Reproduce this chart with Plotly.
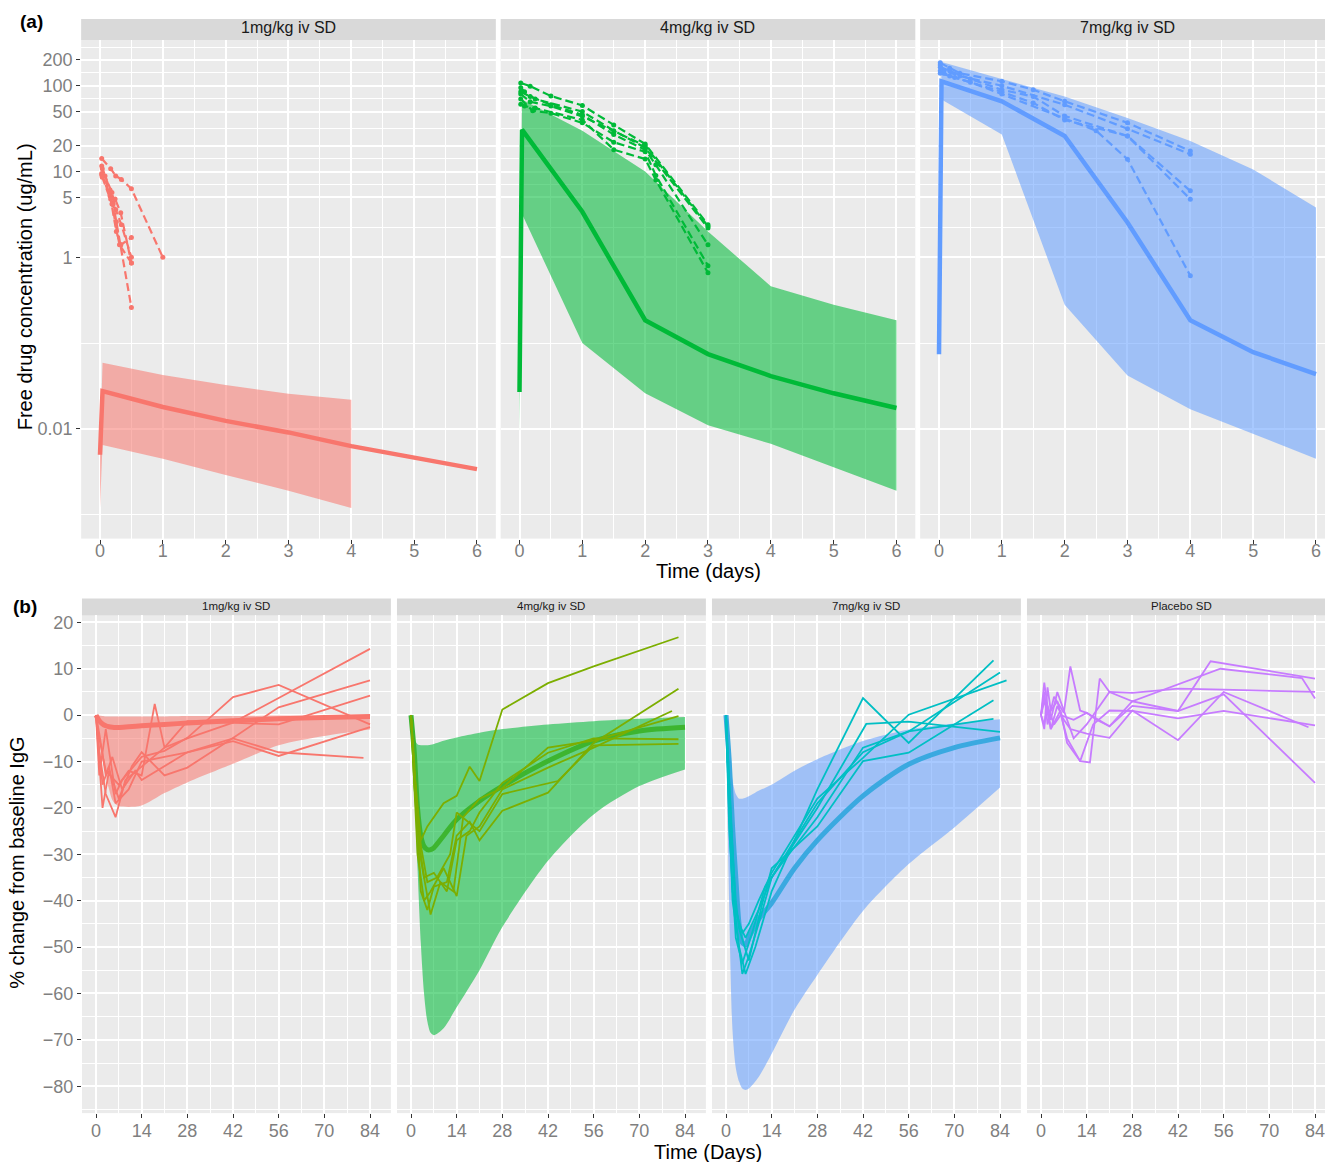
import plotly.graph_objects as go

FIG_W, FIG_H = 1325, 1162

# ---------------- (a) free drug concentration ----------------
PK_PANELS = ["1mg/kg iv SD", "4mg/kg iv SD", "7mg/kg iv SD"]
PK_COLORS = ["#F8766D", "#00BA38", "#619CFF"]
PK_BAND = ["rgba(248,118,109,0.55)", "rgba(0,186,56,0.57)", "rgba(97,156,255,0.55)"]

pk_day_ticks = [0, 1, 2, 3, 4, 5, 6]
pk_conc_ticks = [0.01, 1, 5, 10, 20, 50, 100, 200]
pk_conc_labels = ["0.01", "1", "5", "10", "20", "50", "100", "200"]

# model median and prediction interval
pk1_time = [0, 0.04, 1, 2, 3, 4, 6]
pk1_median = [0.005, 0.0276, 0.018, 0.0124, 0.0091, 0.0063, 0.0034]
pk1_band_time = [0, 0.04, 1, 2, 3, 4]
pk1_lower = [0.0012, 0.0065, 0.0045, 0.0029, 0.0019, 0.0012]
pk1_upper = [0.005, 0.059, 0.0425, 0.0324, 0.0257, 0.0219]

pk4_time = [0, 0.04, 1, 2, 3, 4, 5, 6]
pk4_median = [0.027, 30.8, 3.4, 0.185, 0.0745, 0.0413, 0.026, 0.0175]
pk4_band_time = [0, 0.04, 1, 2, 3, 4, 5, 6]
pk4_lower = [0.009, 3.2, 0.1, 0.026, 0.011, 0.0067, 0.0036, 0.0019]
pk4_upper = [0.027, 69, 30, 10, 2.0, 0.46, 0.28, 0.185]

pk7_time = [0, 0.04, 1, 2, 3, 4, 5, 6]
pk7_median = [0.074, 113, 66, 26, 2.55, 0.185, 0.0785, 0.0436]
pk7_band_time = [0, 0.04, 1, 2, 3, 4, 5, 6]
pk7_lower = [0.07, 69, 27, 0.28, 0.042, 0.017, 0.0087, 0.0045]
pk7_upper = [0.074, 190, 120, 75, 42, 22.7, 10.6, 3.8]

# observed individual profiles
pk1_obs_time = [
    [0.027, 0.17, 0.25, 0.34, 0.5, 1.0],
    [0.027, 0.16, 0.21, 0.26, 0.33, 0.5],
    [0.027, 0.08, 0.19, 0.25, 0.34, 0.5],
    [0.036, 0.16, 0.24, 0.33, 0.5],
    [0.027, 0.17, 0.26, 0.33, 0.5],
    [0.036, 0.19, 0.31, 0.5],
]
pk1_obs_conc = [
    [14.2, 10.8, 8.9, 8.1, 6.3, 1.0],
    [11.6, 6.1, 4.2, 2.6, 1.4, 0.26],
    [9.1, 8.9, 5.7, 3.6, 2.4, 1.0],
    [10.8, 5.2, 4.8, 3.3, 0.86],
    [9.5, 4.8, 2.0, 1.4, 1.7],
    [8.6, 4.2, 1.4, 0.86],
]
pk4_obs_time = [
    [0.02, 0.17, 0.5, 1, 1.5, 2, 3],
    [0.02, 0.08, 0.25, 1, 1.5, 2, 3],
    [0.02, 0.17, 0.5, 1, 1.5, 2, 2.17, 3],
    [0.02, 0.21, 0.5, 1, 1.5, 2, 2.17, 3],
    [0.02, 0.08, 0.25, 1, 1.5, 2, 2.17, 3],
    [0.02, 0.17, 0.5, 1, 2, 3],
]
pk4_obs_conc = [
    [108, 99, 76, 59, 35, 21, 2.4],
    [95, 85, 70, 50, 30, 19, 2.2],
    [85, 75, 60, 46, 27, 18, 12, 1.4],
    [70, 51, 48, 37, 22, 17, 9, 0.8],
    [61, 58, 55, 40, 18, 14, 8, 0.66],
    [80, 65, 58, 44, 20, 2.3],
]
pk7_obs_time = [
    [0.02, 0.17, 0.33, 1, 1.5, 2, 3, 4],
    [0.02, 0.08, 0.33, 1, 2, 3, 4],
    [0.02, 0.17, 0.5, 1, 1.5, 2, 3, 4],
    [0.02, 0.08, 0.25, 1, 1.5, 2, 3, 4],
    [0.02, 0.17, 0.5, 1, 2, 2.5, 3, 4],
]
pk7_obs_conc = [
    [185, 160, 140, 113, 90, 66, 37, 17.4],
    [175, 150, 130, 100, 60, 31.6, 15.9],
    [165, 150, 120, 90, 75, 44.5, 26, 5.96],
    [150, 140, 125, 85, 63, 40, 26, 4.77],
    [140, 130, 110, 80, 42, 30, 13.9, 0.61],
]

# ---------------- (b) % change from baseline IgG ----------------
IGG_PANELS = ["1mg/kg iv SD", "4mg/kg iv SD", "7mg/kg iv SD", "Placebo SD"]
IGG_OBS_COLORS = ["#F8766D", "#7CAE00", "#00BFC4", "#C77CFF"]
IGG_MED_COLORS = ["#F8766D", "#3DB52F", "#3AA9E0"]
IGG_BAND = ["rgba(248,118,109,0.55)", "rgba(0,186,56,0.57)", "rgba(97,156,255,0.55)"]

igg_day_ticks = [0, 14, 28, 42, 56, 70, 84]
igg_chg_ticks = [20, 10, 0, -10, -20, -30, -40, -50, -60, -70, -80]

igg_days = [0, 1, 2, 3, 4, 5, 6, 7, 10, 14, 21, 28, 42, 56, 70, 84]
igg1_median = [0, -1.2, -1.9, -2.3, -2.5, -2.6, -2.65, -2.65, -2.5, -2.3, -2.0, -1.7, -1.2, -0.8, -0.5, -0.3]
igg1_lower = [0, -3.4, -9, -13, -16, -18.3, -19.2, -19.6, -19.8, -19.5, -16.8, -14.5, -10.5, -6.5, -4.5, -3.1]
igg1_upper = [0, -0.1, -0.2, -0.3, -0.3, -0.3, -0.3, -0.3, -0.3, -0.3, -0.3, -0.2, -0.2, -0.1, -0.1, 0]
igg4_median = [0, -8, -20, -26, -28.3, -29, -29, -28.6, -26, -22.5, -18.5, -15.3, -9.9, -5.6, -3.4, -2.6]
igg4_lower = [0, -15, -33, -49, -60, -66, -68.5, -69, -67.5, -63, -55, -45.7, -31.4, -21.4, -15.3, -11.7]
igg4_upper = [0, -5, -6.3, -6.5, -6.5, -6.5, -6.4, -6.2, -5.5, -4.8, -3.8, -3, -2, -1.3, -0.8, -0.4]
igg7_median = [0, -10, -24, -35, -45, -49, -49.5, -48, -44, -40.5, -33, -27, -17.4, -10.6, -7, -4.9]
igg7_lower = [0, -42, -68, -76, -79, -80.5, -80.8, -80.5, -78, -73, -63.5, -56, -42.2, -32.1, -24.2, -15.6]
igg7_upper = [0, -8, -14, -17, -18, -18, -17.8, -17.5, -16.3, -15, -12, -9.5, -5.6, -3.1, -1.8, -0.9]

igg1_obs_day = [
    [0, 1, 3, 7, 10, 14, 18, 21, 28, 42, 56, 84],
    [0, 1, 3, 6, 8, 14, 21, 28, 42, 56, 84],
    [0, 1, 2, 4, 7, 11, 14, 21, 28, 42, 56, 84],
    [0, 1, 3, 6, 9, 14, 21, 28, 42, 56, 84],
    [0, 2, 4, 6, 10, 14, 21, 28, 42, 56, 84],
    [0, 1, 3, 5, 8, 12, 14, 21, 28, 42, 56, 82],
]
igg1_obs_chg = [
    [0, -5, -12, -15, -12, -13, 2.4, -7, -5, -1.6, 3.7, 14.3],
    [0, -13, -3, -17, -14, -9, -7.7, -4.9, 3.9, 6.5, -2.0],
    [0, -10, -20, -12, -18, -11, -8, -13, -11.3, -4.9, 1.7, 7.5],
    [0, -8, -17, -22, -14, -11, -7, -1.3, -1.6, -2, 4.2],
    [0, -15, -11, -19, -16, -10, -9, -8, -5.6, -8.8, -2.6],
    [0, -4, -13, -9, -16, -12, -14, -11, -8, -5, -8, -9.2],
]
igg4_obs_day = [
    [0, 1, 3, 5, 10, 14, 18, 21, 28, 42, 56, 82],
    [0, 1, 3, 5, 7, 11, 14, 18, 21, 28, 42, 56, 82],
    [0, 2, 4, 6, 10, 14, 17, 21, 28, 42, 56, 80],
    [0, 1, 3, 6, 9, 13, 16, 21, 28, 42, 56, 82],
    [0, 2, 4, 7, 11, 14, 18, 21, 28, 42, 56, 82],
    [0, 1, 3, 5, 8, 12, 14, 21, 28, 45, 56, 82],
]
igg4_obs_chg = [
    [0, -12, -27, -24, -19, -17.4, -11.1, -14.2, 1.2, 6.9, 10.5, 16.8],
    [0, -10, -38, -42, -37, -36, -26, -23, -27, -20.6, -16.7, -6, 5.7],
    [0, -30, -40, -38, -33, -39, -26, -24, -16, -11.3, -7, 0.9],
    [0, -15, -31, -43, -36, -38, -22, -18, -15.7, -7, -5.5, -0.2],
    [0, -25, -35, -34, -38, -27, -25, -21, -14.6, -8.1, -5, -5.2],
    [0, -12, -28, -36, -35, -30, -21, -25, -17, -14.2, -6.5, -6.2],
]
igg7_obs_day = [
    [0, 1, 2, 4, 6, 9, 14, 28, 42, 56, 82],
    [0, 1, 3, 5, 7, 10, 14, 28, 43, 56, 84],
    [0, 1, 3, 5, 8, 12, 16, 28, 42, 56, 84],
    [0, 2, 3, 5, 7, 10, 14, 28, 42, 56, 86],
    [0, 1, 3, 4, 7, 11, 14, 28, 42, 56, 82],
    [0, 1, 2, 4, 6, 10, 14, 28, 42, 56, 82],
]
igg7_obs_chg = [
    [0, -20, -40, -50, -55.8, -50, -38, -16, 3.7, -6.0, 11.8],
    [0, -15, -44, -55.8, -52, -45, -35, -20, -1.9, -1.4, -3.6],
    [0, -25, -48, -53.5, -47, -37, -33, -22, -7.0, -3.5, 9.2],
    [0, -30, -42, -47, -45, -40, -34, -18, -9.2, 0.1, 7.5],
    [0, -18, -40, -46, -52.9, -41, -33, -24, -9.9, -8.1, 3.2],
    [0, -22, -38, -45, -48, -42, -35, -19, -8, -3.5, -0.8],
]
iggP_obs_day = [
    [0, 1, 2, 4, 7, 9, 12, 14, 17, 21, 28, 42, 52, 84],
    [0, 1, 2, 3, 5, 8, 12, 15, 18, 21, 28, 42, 55, 80, 84],
    [0, 1, 3, 5, 7, 10, 14, 21, 28, 42, 56, 84],
    [0, 1, 2, 4, 6, 10, 14, 21, 28, 42, 56, 84],
    [0, 1, 2, 3, 6, 8, 12, 16, 21, 28, 42, 56, 84],
    [0, 1, 3, 5, 7, 9, 14, 21, 28, 42, 56, 82],
]
iggP_obs_chg = [
    [0, 5, -2, 4, 0.5, 10.5, 1, 0.5, -1, -2.4, 2.0, 0.9, 11.6, 7.9],
    [0, -3, 6, 1, 3, -5, -9.9, -10.2, 7.9, 5, 3, 6.6, 10, 8, 3.6],
    [0, 3, -1, 5, 1, -5, -2, 5.0, 4.8, 5.7, 5.5, 5.0],
    [0, 7, 2, -2, 0, -1, 0.5, -2.4, 3, 0.9, 4.5, -14.6],
    [0, -2, 2, -3, 1, -6, -9.9, -2, 1, 0.9, -0.7, 0.9, -2.2],
    [0, 4, -3, 2, -1, -3, -4, -4.9, 1, -5.4, 5.0, -2.6],
]

# ---------------- layout geometry (pixels) ----------------
def px_x(p):
    return p / FIG_W


def px_y(p):
    return 1 - p / FIG_H


BG = "#EBEBEB"
FONT_FAMILY = "Liberation Sans, Arial, sans-serif"
TICK_FONT = dict(family=FONT_FAMILY, size=18, color="#7F7F7F")
TITLE_FONT = dict(family=FONT_FAMILY, size=20, color="#000000")

fig = go.Figure()
layout = dict(
    width=FIG_W, height=FIG_H,
    margin=dict(l=0, r=0, t=0, b=0),
    paper_bgcolor="white", plot_bgcolor=BG,
    showlegend=False,
    font=dict(family=FONT_FAMILY),
)
shapes, annotations = [], []

# panel (a): zero-day pixel positions, scale 62.83 px/day
A_ZERO = [100, 519.5, 939]
A_SCALE = 62.83
A_TOP, A_BOT = 37, 537
A_LOG_RANGE = [-3.279, 2.535]
pk_minor_y = [0.001, 0.1, 2.236, 7.071, 14.14, 31.62, 70.71, 141.4, 282.8]

for i in range(3):
    n = "" if i == 0 else str(i + 1)
    left = A_ZERO[i] - 0.3 * A_SCALE
    full_right = A_ZERO[i] + 6.3 * A_SCALE
    right = min(full_right, FIG_W)
    xr = [-0.3, (right - A_ZERO[i]) / A_SCALE]
    layout["xaxis" + n] = dict(
        domain=[px_x(left), px_x(right)], range=xr, anchor="y" + n,
        tickmode="array", tickvals=pk_day_ticks, ticks="outside", ticklen=4,
        tickcolor="#333333", tickwidth=1.2, tickfont=TICK_FONT,
        ticklabelstandoff=-8, ticklabeloverflow="allow",
        showgrid=True, gridcolor="white", gridwidth=1.5, zeroline=False,
        minor=dict(tickmode="array", tickvals=[0.5, 1.5, 2.5, 3.5, 4.5, 5.5],
                   showgrid=True, gridcolor="white", gridwidth=0.6, ticks=""),
        showline=False,
    )
    layout["yaxis" + n] = dict(
        domain=[px_y(A_BOT), px_y(A_TOP)], type="log", range=A_LOG_RANGE,
        anchor="x" + n, tickmode="array", tickvals=pk_conc_ticks,
        ticktext=pk_conc_labels, ticks="outside" if i == 0 else "",
        ticklen=4, tickcolor="#333333", tickwidth=1.2, tickfont=TICK_FONT,
        showticklabels=(i == 0), showgrid=True, gridcolor="white",
        gridwidth=1.5, zeroline=False, showline=False,
        minor=dict(tickmode="array", tickvals=pk_minor_y, showgrid=True,
                   gridcolor="white", gridwidth=0.6, ticks=""),
    )
    # facet strip
    shapes.append(dict(type="rect", xref="paper", yref="paper",
                       x0=px_x(left), x1=px_x(right), y0=px_y(A_TOP), y1=px_y(16),
                       fillcolor="#D9D9D9", line=dict(width=0), layer="below"))
    annotations.append(dict(text=PK_PANELS[i], xref="paper", yref="paper",
                            x=px_x((left + full_right) / 2), y=px_y(25),
                            showarrow=False, xanchor="center", yanchor="middle",
                            font=dict(size=16, color="#1A1A1A")))

pk_models = [
    (pk1_time, pk1_median, pk1_band_time, pk1_lower, pk1_upper, pk1_obs_time, pk1_obs_conc),
    (pk4_time, pk4_median, pk4_band_time, pk4_lower, pk4_upper, pk4_obs_time, pk4_obs_conc),
    (pk7_time, pk7_median, pk7_band_time, pk7_lower, pk7_upper, pk7_obs_time, pk7_obs_conc),
]
for i, (t, med, bt, lo, hi, ot, oc) in enumerate(pk_models):
    n = "" if i == 0 else str(i + 1)
    xa, ya = "x" + n, "y" + n
    fig.add_trace(go.Scatter(x=bt + bt[::-1], y=hi + lo[::-1], fill="toself",
                             fillcolor=PK_BAND[i], line=dict(width=0), mode="lines",
                             hoverinfo="skip", xaxis=xa, yaxis=ya))
    fig.add_trace(go.Scatter(x=t, y=med, mode="lines",
                             line=dict(color=PK_COLORS[i], width=4.5),
                             xaxis=xa, yaxis=ya))
    for tt, cc in zip(ot, oc):
        fig.add_trace(go.Scatter(x=tt, y=cc, mode="lines+markers",
                                 line=dict(color=PK_COLORS[i], width=2.2, dash="8px,4px"),
                                 marker=dict(size=5, color=PK_COLORS[i]),
                                 xaxis=xa, yaxis=ya))

# panel (b): zero-day pixel positions, scale 3.262 px/day; 4.65 px per % unit
B_ZERO = [96, 411, 726, 1041]
B_SCALE = 3.262
B_TOP, B_BOT = 614, 1113
B_Y0 = 714
B_YS = 4.65
b_yrange = [-(B_BOT - B_Y0) / B_YS, (B_Y0 - B_TOP) / B_YS]
igg_minor_y = [15, 5, -5, -15, -25, -35, -45, -55, -65, -75, -85]

for i in range(4):
    n = str(i + 4)
    left = B_ZERO[i] - 4.3 * B_SCALE
    full_right = B_ZERO[i] + 90.4 * B_SCALE
    right = min(full_right, FIG_W)
    xr = [-4.3, (right - B_ZERO[i]) / B_SCALE]
    layout["xaxis" + n] = dict(
        domain=[px_x(left), px_x(right)], range=xr, anchor="y" + n,
        tickmode="array", tickvals=igg_day_ticks, ticks="outside", ticklen=4,
        tickcolor="#333333", tickwidth=1.2, tickfont=TICK_FONT,
        ticklabelstandoff=-3, ticklabeloverflow="allow",
        showgrid=True, gridcolor="white", gridwidth=1.5, zeroline=False,
        minor=dict(tickmode="array", tickvals=[7, 21, 35, 49, 63, 77],
                   showgrid=True, gridcolor="white", gridwidth=0.6, ticks=""),
        showline=False,
    )
    layout["yaxis" + n] = dict(
        domain=[px_y(B_BOT), px_y(B_TOP)], range=b_yrange, anchor="x" + n,
        tickmode="array", tickvals=igg_chg_ticks,
        ticks="outside" if i == 0 else "", ticklen=4, tickcolor="#333333",
        tickwidth=1.2, tickfont=TICK_FONT, showticklabels=(i == 0),
        showgrid=True, gridcolor="white", gridwidth=1.5, zeroline=False,
        showline=False,
        minor=dict(tickmode="array", tickvals=igg_minor_y, showgrid=True,
                   gridcolor="white", gridwidth=0.6, ticks=""),
    )
    shapes.append(dict(type="rect", xref="paper", yref="paper",
                       x0=px_x(left), x1=px_x(right), y0=px_y(B_TOP), y1=px_y(597),
                       fillcolor="#D9D9D9", line=dict(width=0), layer="below"))
    annotations.append(dict(text=IGG_PANELS[i], xref="paper", yref="paper",
                            x=px_x((left + full_right) / 2), y=px_y(604.5),
                            showarrow=False, xanchor="center", yanchor="middle",
                            font=dict(size=11.5, color="#1A1A1A")))

igg_models = [
    (igg1_median, igg1_lower, igg1_upper),
    (igg4_median, igg4_lower, igg4_upper),
    (igg7_median, igg7_lower, igg7_upper),
]
igg_obs = [
    (igg1_obs_day, igg1_obs_chg),
    (igg4_obs_day, igg4_obs_chg),
    (igg7_obs_day, igg7_obs_chg),
    (iggP_obs_day, iggP_obs_chg),
]
for i in range(4):
    n = str(i + 4)
    xa, ya = "x" + n, "y" + n
    if i < 3:
        med, lo, hi = igg_models[i]
        # interval: lower edge, then upper edge filled down to it
        fig.add_trace(go.Scatter(x=igg_days, y=lo, mode="lines",
                                 line=dict(width=0, shape="spline", smoothing=0.8),
                                 hoverinfo="skip", xaxis=xa, yaxis=ya))
        fig.add_trace(go.Scatter(x=igg_days, y=hi, mode="lines", fill="tonexty",
                                 fillcolor=IGG_BAND[i],
                                 line=dict(width=0, shape="spline", smoothing=0.8),
                                 hoverinfo="skip", xaxis=xa, yaxis=ya))
        fig.add_trace(go.Scatter(x=igg_days, y=med, mode="lines",
                                 line=dict(color=IGG_MED_COLORS[i], width=5,
                                           shape="spline", smoothing=0.8),
                                 xaxis=xa, yaxis=ya))
    for dd, vv in zip(*igg_obs[i]):
        fig.add_trace(go.Scatter(x=dd, y=vv, mode="lines",
                                 line=dict(color=IGG_OBS_COLORS[i], width=1.8),
                                 xaxis=xa, yaxis=ya))

# shared axis titles and panel tags
annotations += [
    dict(text="Time (days)", xref="paper", yref="paper", x=px_x(708), y=px_y(569),
         showarrow=False, font=TITLE_FONT, xanchor="center", yanchor="middle"),
    dict(text="Free drug concentration (ug/mL)", xref="paper", yref="paper",
         x=px_x(25), y=px_y(285), showarrow=False, textangle=-90,
         font=TITLE_FONT, xanchor="center", yanchor="middle"),
    dict(text="Time (Days)", xref="paper", yref="paper", x=px_x(708), y=px_y(1152),
         showarrow=False, font=TITLE_FONT, xanchor="center", yanchor="middle"),
    dict(text="% change from baseline IgG", xref="paper", yref="paper",
         x=px_x(17), y=px_y(862), showarrow=False, textangle=-90,
         font=TITLE_FONT, xanchor="center", yanchor="middle"),
    dict(text="<b>(a)</b>", xref="paper", yref="paper", x=px_x(31), y=px_y(19),
         showarrow=False, font=dict(size=19, color="#000000"),
         xanchor="center", yanchor="middle"),
    dict(text="<b>(b)</b>", xref="paper", yref="paper", x=px_x(25), y=px_y(605),
         showarrow=False, font=dict(size=19, color="#000000"),
         xanchor="center", yanchor="middle"),
]

layout["shapes"] = shapes
layout["annotations"] = annotations
fig.update_layout(**layout)
fig.write_html("out.html")
